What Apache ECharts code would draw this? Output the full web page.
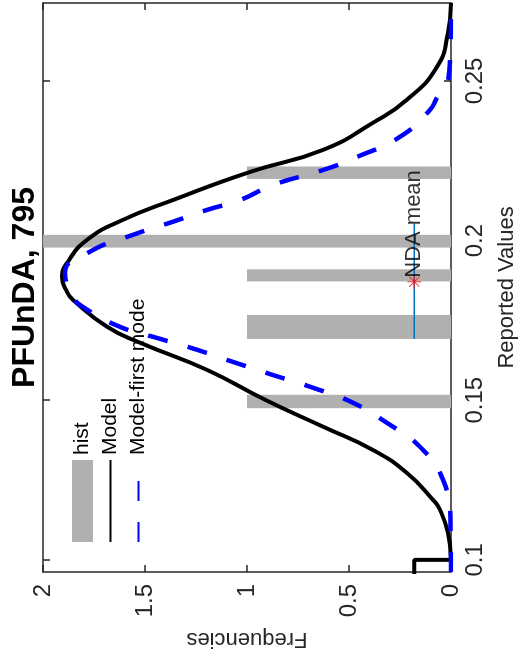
<!DOCTYPE html>
<html>
<head>
<meta charset="utf-8">
<script src="https://cdn.jsdelivr.net/npm/echarts@6/dist/echarts.min.js"></script>
<style>
html,body{margin:0;padding:0;background:#fff;overflow:hidden;width:528px;height:662px;}
#chart{position:absolute;left:0;top:662px;width:662px;height:528px;transform-origin:0 0;transform:rotate(-90deg);}
</style>
</head>
<body>
<div id="chart"></div>
<script>
// ---- data ----
const titleText = 'PFUnDA, 795';
const valueTicks = [0.1, 0.15, 0.2, 0.25];
const freqTicks = [0, 0.5, 1, 1.5, 2];

// histogram bars: bin start, bin end, count
const histLo    = [0.1475, 0.1692, 0.1872, 0.1978, 0.2193];
const histHi    = [0.1517, 0.1767, 0.1910, 0.2018, 0.2232];
const histCount = [1, 1, 1, 2, 1];

// Model: point mass step at the low end
const modelStepX = [0.0900, 0.1000, 0.1000];
const modelStepY = [0.18, 0.18, 0.0];

// Model curve
const modelX = [0.1000, 0.1085, 0.1157, 0.1188, 0.1272, 0.1344, 0.1417, 0.1501, 0.1595, 0.1680, 0.1730, 0.1814, 0.1836, 0.1886, 0.1930, 0.2002, 0.2065, 0.2127, 0.2215, 0.2284, 0.2369, 0.2441, 0.2544, 0.2650, 0.2744];
const modelY = [0.000, 0.015, 0.054, 0.088, 0.216, 0.382, 0.627, 0.910, 1.196, 1.524, 1.686, 1.853, 1.880, 1.907, 1.882, 1.784, 1.608, 1.363, 0.985, 0.627, 0.382, 0.216, 0.069, 0.015, 0.000];

// Model-first mode curve
const firstModeX = [0.0962, 0.1125, 0.1250, 0.1354, 0.1429, 0.1492, 0.1539, 0.1579, 0.1620, 0.1658, 0.1695, 0.1730, 0.1792, 0.1824, 0.1899, 0.1965, 0.2018, 0.2059, 0.2096, 0.2127, 0.2174, 0.2221, 0.2262, 0.2325, 0.2409, 0.2447, 0.2510, 0.2566, 0.2690, 0.2744];
const firstModeY = [0.000, 0.003, 0.039, 0.152, 0.314, 0.480, 0.676, 0.873, 1.069, 1.245, 1.441, 1.623, 1.804, 1.853, 1.892, 1.770, 1.559, 1.363, 1.196, 1.034, 0.873, 0.627, 0.461, 0.250, 0.103, 0.069, 0.012, 0.005, 0.000, 0.000];

// NDA mean marker
const ndaRangeX = [0.1692, 0.2053];
const ndaLevel = 0.18;
const ndaMean = 0.1871;
const ndaLabel = 'NDA mean';

// ---- chart ----
const FONT = 'Liberation Sans';
const axisColor = '#262626';
const axisLineStyle = {color: axisColor, width: 1.5};

const valueAxisBase = {
  type: 'value', min: 0.0962, max: 0.2744,
  splitLine: {show: false},
  axisLine: {show: true, onZero: false, lineStyle: axisLineStyle},
  axisTick: {show: true, inside: true, length: 7, customValues: valueTicks, lineStyle: axisLineStyle}
};
const freqAxisBase = {
  type: 'value', min: freqTicks[0], max: freqTicks[freqTicks.length - 1], interval: freqTicks[1] - freqTicks[0],
  splitLine: {show: false},
  axisLine: {show: true, onZero: false, lineStyle: axisLineStyle},
  axisTick: {show: true, inside: true, length: 7, lineStyle: axisLineStyle}
};

const asterisk = 'path://M9.3,0L10.7,0L10.7,20L9.3,20Z M0,9.3L20,9.3L20,10.7L0,10.7Z M3.42,2.44L17.56,16.58L16.58,17.56L2.44,3.42Z M17.56,3.42L3.42,17.56L2.44,16.58L16.58,2.44Z';

const chart = echarts.init(document.getElementById('chart'), null, {renderer: 'canvas', width: 662, height: 528});
chart.setOption({
  animation: false,
  backgroundColor: '#ffffff',
  textStyle: {fontFamily: FONT},
  grid: {left: 90, right: 3, top: 43, bottom: 77, containLabel: false, outerBoundsMode: 'none'},
  graphic: [{
    type: 'text', x: 374.5, y: 9, z: 100,
    style: {text: titleText, fontFamily: FONT, fontSize: 32, fontWeight: 'bold', fill: '#000', align: 'center', verticalAlign: 'top'}
  }],
  legend: {
    left: 119, top: 72, orient: 'vertical', padding: 0,
    itemWidth: 82, itemHeight: 21, itemGap: 7, selectedMode: false,
    textStyle: {fontSize: 21, color: '#000', fontFamily: FONT},
    data: [
      {name: 'hist', icon: 'rect'},
      {name: 'Model', itemStyle: {opacity: 0}},
      {name: 'Model-first mode', itemStyle: {opacity: 0}}
    ]
  },
  xAxis: [
    Object.assign({}, valueAxisBase, {
      position: 'bottom',
      axisLabel: {show: true, customValues: valueTicks, fontSize: 24, color: axisColor, margin: 12, formatter: v => String(v)},
      name: 'Reported Values', nameLocation: 'middle', nameGap: 45,
      nameTextStyle: {fontSize: 22, color: axisColor}
    }),
    Object.assign({}, valueAxisBase, {position: 'top', axisLabel: {show: false}})
  ],
  yAxis: [
    Object.assign({}, freqAxisBase, {
      position: 'left',
      axisLabel: {show: true, fontSize: 24, color: axisColor, margin: 12},
      name: 'Frequencies', nameLocation: 'middle', nameGap: 56, nameRotate: 90,
      nameTextStyle: {fontSize: 22, color: axisColor}
    }),
    Object.assign({}, freqAxisBase, {position: 'right', axisLabel: {show: false}})
  ],
  series: [
    {
      type: 'custom', name: 'hist', z: 1,
      data: histLo.map((lo, i) => [lo, histHi[i], histCount[i]]),
      encode: {x: [0, 1], y: 2},
      itemStyle: {color: '#b0b0b0'},
      renderItem: function (params, api) {
        const p0 = api.coord([api.value(0), api.value(2)]);
        const p1 = api.coord([api.value(1), 0]);
        return {type: 'rect', shape: {x: p0[0], y: p0[1], width: p1[0] - p0[0], height: p1[1] - p0[1]}, style: {fill: '#b0b0b0'}};
      }
    },
    {
      type: 'line', name: 'Model', z: 3, symbol: 'none', silent: true,
      data: modelStepX.map((x, i) => [x, modelStepY[i]]),
      itemStyle: {color: '#000'},
      lineStyle: {color: '#000', width: 4}
    },
    {
      type: 'line', name: 'Model', z: 3, symbol: 'none', silent: true,
      smooth: 0.5,
      data: modelX.map((x, i) => [x, modelY[i]]),
      itemStyle: {color: '#000'},
      lineStyle: {color: '#000', width: 4}
    },
    {
      type: 'line', name: 'Model-first mode', z: 4, symbol: 'none', silent: true,
      smooth: 0.5,
      data: firstModeX.map((x, i) => [x, firstModeY[i]]),
      itemStyle: {color: '#0000ff'},
      lineStyle: {color: '#0000ff', width: 4.5, type: [20, 21]}
    },
    {
      type: 'line', name: 'NDA range', z: 5, symbol: 'none', silent: true,
      data: ndaRangeX.map(x => [x, ndaLevel]),
      itemStyle: {color: '#0072BD'},
      lineStyle: {color: '#0072BD', width: 1.5}
    },
    {
      type: 'scatter', name: 'NDA mean', z: 6,
      data: [[ndaMean, ndaLevel]],
      symbol: asterisk, symbolSize: 14,
      itemStyle: {color: '#ff0000'},
      label: {show: true, position: 'right', distance: -3, formatter: ndaLabel, fontSize: 22, color: '#000', fontFamily: FONT}
    }
  ]
});
</script>
</body>
</html>
